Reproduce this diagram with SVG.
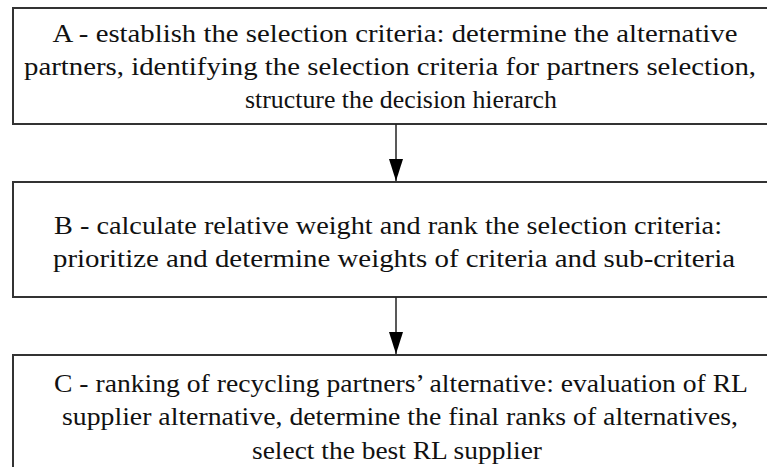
<svg xmlns="http://www.w3.org/2000/svg" width="767" height="467" viewBox="0 0 767 467">
<style>
.box{fill:#fff;stroke:#333;stroke-width:2}
.t{font-family:"Liberation Serif","Times New Roman","DejaVu Serif",serif;font-size:26px;fill:#111}
.c{text-anchor:middle}
.conn{stroke:#222;stroke-width:1.5;fill:none}
</style>
<defs>
<marker id="ah" markerWidth="22" markerHeight="14" refX="22" refY="7" orient="auto" markerUnits="userSpaceOnUse" viewBox="0 0 22 14">
<path d="M0,0 L22,7 L0,14 Z" fill="#000"/>
</marker>
</defs>
<rect width="767" height="467" fill="#fff"/>
<g id="nodeA">
<rect class="box" x="13" y="8" width="770" height="116"/>
<text class="t c" x="395" y="42" textLength="685" lengthAdjust="spacingAndGlyphs">A - establish the selection criteria: determine the alternative</text>
<text class="t c" x="390" y="75" textLength="732" lengthAdjust="spacingAndGlyphs">partners, identifying the selection criteria for partners selection,</text>
<text class="t c" x="401" y="108" textLength="312" lengthAdjust="spacingAndGlyphs">structure the decision hierarch</text>
</g>
<g id="nodeB">
<rect class="box" x="13" y="182" width="770" height="115"/>
<text class="t" x="54" y="234" textLength="668" lengthAdjust="spacingAndGlyphs">B - calculate relative weight and rank the selection criteria:</text>
<text class="t" x="53" y="267" textLength="682" lengthAdjust="spacingAndGlyphs">prioritize and determine weights of criteria and sub-criteria</text>
</g>
<g id="nodeC">
<rect class="box" x="13" y="355" width="770" height="130"/>
<text class="t c" x="401" y="392" textLength="694" lengthAdjust="spacingAndGlyphs">C - ranking of recycling partners’ alternative: evaluation of RL</text>
<text class="t c" x="400" y="425" textLength="676" lengthAdjust="spacingAndGlyphs">supplier alternative, determine the final ranks of alternatives,</text>
<text class="t c" x="397" y="459" textLength="290" lengthAdjust="spacingAndGlyphs">select the best RL supplier</text>
</g>
<g id="connectors">
<line class="conn" x1="396" y1="124" x2="396" y2="181" marker-end="url(#ah)"/>
<line class="conn" x1="396" y1="297" x2="396" y2="354" marker-end="url(#ah)"/>
</g>
</svg>
